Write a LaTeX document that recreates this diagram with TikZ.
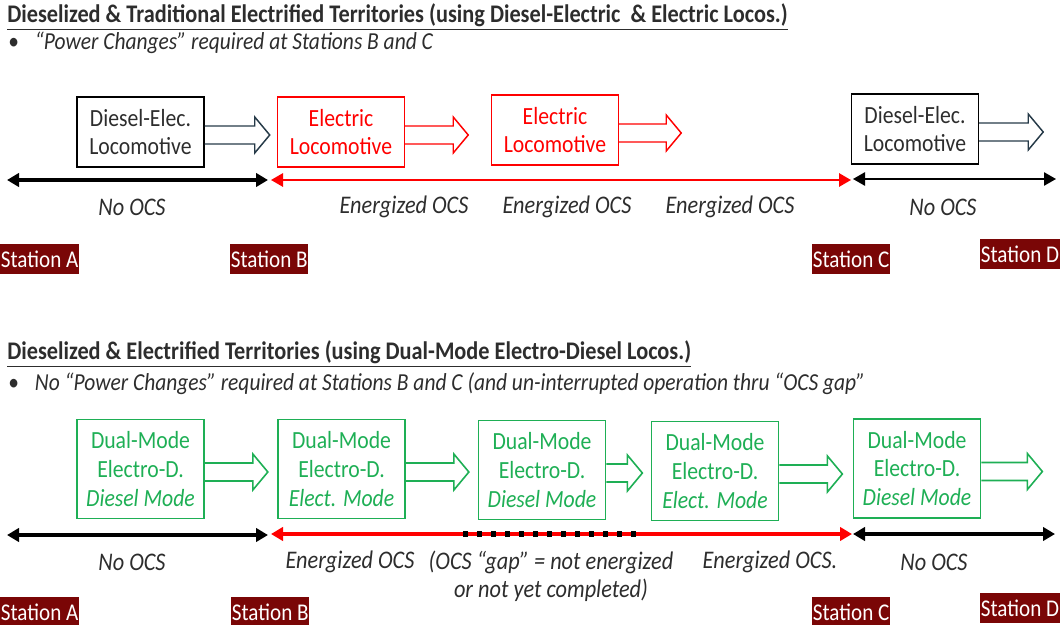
\documentclass[tikz,border=0pt]{standalone}
\usepackage{fontspec}
\setmainfont{Carlito}[FakeStretch=0.88]
\usetikzlibrary{arrows.meta,calc,positioning}

\definecolor{stationred}{RGB}{122,6,6}
\definecolor{dualgreen}{RGB}{30,175,85}
\definecolor{slate}{RGB}{38,58,72}
\definecolor{textgray}{RGB}{45,45,45}

% hollow block arrow: style, start node, length
\newcommand{\blockarrow}[3]{%
  \draw[#1] ($(#2.east)+(0,-6)$) -- ++({#3-15},0) -- ++(0,-9) -- ++(15,18) -- ++(-15,18) -- ++(0,-9) -- ++({15-#3},0);
}

\begin{document}
\begin{tikzpicture}[x=0.75pt, y=-0.75pt]
    % Define styles
    \tikzstyle{diesel} = [rectangle, draw=black, line width=1.1pt, text=textgray, minimum width=95.25pt, minimum height=52.5pt, align=center, inner sep=0pt, font=\fontsize{18.5}{20.5}\selectfont]
    \tikzstyle{electric} = [diesel, draw=red, text=red]
    \tikzstyle{dualmode} = [diesel, draw=dualgreen, text=dualgreen, line width=1.3pt, minimum height=74.25pt, font=\fontsize{18.5}{21.5}\selectfont]
    \tikzstyle{station} = [rectangle, fill=stationred, text=white, inner sep=0.5pt, minimum height=22.5pt, anchor=west, font=\fontsize{18}{20}\selectfont]
    \tikzstyle{ocs} = [font=\fontsize{19}{21}\selectfont\itshape, text=textgray, align=center]
    \tikzstyle{heading} = [anchor=west, inner sep=0pt, font=\fontsize{19}{20}\selectfont\bfseries, text=textgray]
    \tikzstyle{bullet} = [anchor=west, inner sep=0pt, font=\fontsize{18.3}{20}\selectfont, text=textgray]
    \tikzstyle{track} = [line width=2.5pt, {Triangle[length=9pt,width=10pt]}-{Triangle[length=9pt,width=10pt]}]

    \useasboundingbox (0,0) rectangle (1061,625);

    % Traditional territories
    \node [heading] (title1) at (7,17) {\underline{Dieselized \& Traditional Electrified Territories (using Diesel-Electric\ \ \& Electric Locos.)}};
    \node [bullet] (note1) at (8,43) {\textbullet\hspace{12pt}\textit{“Power Changes” required at Stations B and C}};

    \node [diesel] (d1) at (140.5,132) {Diesel-Elec.\\Locomotive};
    \node [electric] (e1) at (341,132) {Electric\\Locomotive};
    \node [electric] (e2) at (555,130) {Electric\\Locomotive};
    \node [diesel] (d2) at (915,129) {Diesel-Elec.\\Locomotive};

    \blockarrow{slate, line width=1.1pt}{d1}{65}
    \blockarrow{red, line width=1.1pt}{e1}{63}
    \blockarrow{red, line width=1.1pt}{e2}{62}
    \blockarrow{slate, line width=1.1pt}{d2}{64}

    \coordinate (tA) at (7,180);
    \coordinate (tB) at (268,180);
    \coordinate (tB2) at (271,180);
    \coordinate (tC) at (851,180);
    \coordinate (tC2) at (853,179);
    \coordinate (tD) at (1056,179);
    \draw [track] (tA) -- (tB);
    \draw [track, red, line width=1.5pt] (tB2) -- (tC);
    \draw [track, line width=1.2pt] (tC2) -- (tD);

    \node [ocs] (ocs1) at (132,207) {No OCS};
    \node [ocs] (ocs2) at (404,207) {Energized OCS};
    \node [ocs] (ocs3) at (567,207) {Energized OCS};
    \node [ocs] (ocs4) at (730,207) {Energized OCS};
    \node [ocs] (ocs5) at (943,207) {No OCS};

    \node [station] (stA) at (0,259) {Station A};
    \node [station] (stB) at (230,259) {Station B};
    \node [station] (stC) at (812,259) {Station C};
    \node [station] (stD) at (980,254) {Station D};

    % Dual-mode territories
    \node [heading] (title2) at (7,354) {\underline{Dieselized \& Electrified Territories (using Dual-Mode Electro-Diesel Locos.)}};
    \node [bullet] (note2) at (8,384) {\textbullet\hspace{12pt}\textit{No “Power Changes” required at Stations B and C (and un-interrupted operation thru “OCS gap”}};

    \node [dualmode] (m1) at (140.5,469) {Dual-Mode\\Electro-D.\\\textit{Diesel Mode}};
    \node [dualmode] (m2) at (341.5,469) {Dual-Mode\\Electro-D.\\\textit{Elect. Mode}};
    \node [dualmode] (m3) at (542,470) {Dual-Mode\\Electro-D.\\\textit{Diesel Mode}};
    \node [dualmode] (m4) at (715,471) {Dual-Mode\\Electro-D.\\\textit{Elect. Mode}};
    \node [dualmode] (m5) at (917,468.5) {Dual-Mode\\Electro-D.\\\textit{Diesel Mode}};

    \blockarrow{dualgreen, line width=1.2pt}{m1}{63}
    \blockarrow{dualgreen, line width=1.2pt}{m2}{63}
    \blockarrow{dualgreen, line width=1.2pt}{m3}{36}
    \blockarrow{dualgreen, line width=1.2pt}{m4}{63}
    \blockarrow{dualgreen, line width=1.2pt}{m5}{61}

    \coordinate (bA) at (7,535);
    \coordinate (bB) at (268,535);
    \coordinate (bB2) at (271,534);
    \coordinate (bC) at (852,534);
    \coordinate (bC2) at (853,534);
    \coordinate (bD) at (1055,534);
    \coordinate (gapL) at (463,534);
    \coordinate (gapR) at (637,534);
    \draw [track] (bA) -- (bB);
    \draw [track, red] (bB2) -- (bC);
    \draw [track] (bC2) -- (bD);
    \draw [line width=4.5pt, dash pattern=on 3.75pt off 6.75pt] (gapL) -- (gapR);

    \node [ocs] (gap1) at (132,562) {No OCS};
    \node [ocs] (gap2) at (350,562) {Energized OCS};
    \node [ocs] (gap3) at (551,576) {(OCS “gap” = not energized\\or not yet completed)};
    \node [ocs] (gap4) at (770,562) {Energized OCS.};
    \node [ocs] (gap5) at (934,562) {No OCS};

    \node [station] (sbA) at (0,612) {Station A};
    \node [station] (sbB) at (231,612) {Station B};
    \node [station] (sbC) at (812,612) {Station C};
    \node [station] (sbD) at (980,608) {Station D};
\end{tikzpicture}
\end{document}
